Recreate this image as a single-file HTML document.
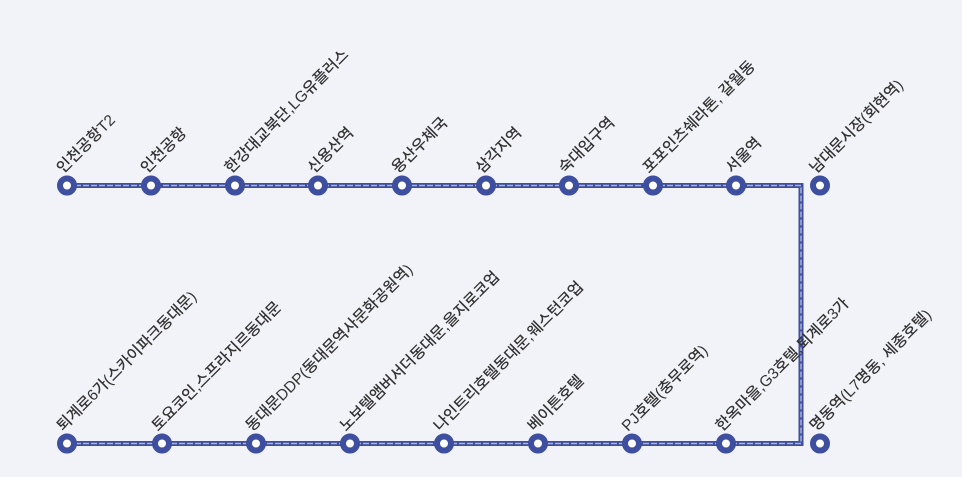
<!DOCTYPE html>
<html><head><meta charset="utf-8"><style>
html,body{margin:0;padding:0;background:#f2f3f8;}
svg{display:block}
text{font-family:"Liberation Sans","Noto Sans CJK KR",sans-serif;font-size:15.5px;font-weight:500;fill:#333;}
</style></head><body>
<svg width="962" height="477" viewBox="0 0 962 477">
<path d="M67 185.5 H801 V443.5 H67" fill="none" stroke="#3f4fa0" stroke-width="5"/>
<path d="M67 185.5 H801 V443.5 H67" fill="none" stroke="#a7b0dc" stroke-width="1.5" stroke-dasharray="6 2"/>
<g fill="#fff" stroke="#3f4fa0" stroke-width="6">
<circle cx="67" cy="185.5" r="7"/><circle cx="151" cy="185.5" r="7"/><circle cx="235" cy="185.5" r="7"/><circle cx="318" cy="185.5" r="7"/><circle cx="402" cy="185.5" r="7"/><circle cx="486" cy="185.5" r="7"/><circle cx="569" cy="185.5" r="7"/><circle cx="653" cy="185.5" r="7"/><circle cx="736" cy="185.5" r="7"/><circle cx="820" cy="185.5" r="7"/>
<circle cx="67" cy="443.5" r="7"/><circle cx="162" cy="443.5" r="7"/><circle cx="256" cy="443.5" r="7"/><circle cx="350" cy="443.5" r="7"/><circle cx="444" cy="443.5" r="7"/><circle cx="538" cy="443.5" r="7"/><circle cx="632" cy="443.5" r="7"/><circle cx="726" cy="443.5" r="7"/><circle cx="820" cy="443.5" r="7"/>
</g>
<g>
<text transform="translate(63,174) rotate(-45)">인천공항T2</text>
<text transform="translate(147,174) rotate(-45)">인천공항</text>
<text transform="translate(231,174) rotate(-45)">한강대교북단,LG유플러스</text>
<text transform="translate(314,174) rotate(-45)">신용산역</text>
<text transform="translate(398,174) rotate(-45)">용산우체국</text>
<text transform="translate(482,174) rotate(-45)">삼각지역</text>
<text transform="translate(565,174) rotate(-45)">숙대입구역</text>
<text transform="translate(649,174) rotate(-45)">포포인츠쉐라톤, 갈월동</text>
<text transform="translate(732,174) rotate(-45)">서울역</text>
<text transform="translate(816,174) rotate(-45)">남대문시장(회현역)</text>
<text transform="translate(63,432) rotate(-45)">퇴계로6가(스카이파크동대문)</text>
<text transform="translate(158,432) rotate(-45)">토요코인,스프라지르동대문</text>
<text transform="translate(252,432) rotate(-45)">동대문DDP(동대문역사문화공원역)</text>
<text transform="translate(346,432) rotate(-45)">노보텔앰버서더동대문,을지로코업</text>
<text transform="translate(440,432) rotate(-45)">나인트리호텔동대문,웨스턴코업</text>
<text transform="translate(534,432) rotate(-45)">베이튼호텔</text>
<text transform="translate(628,432) rotate(-45)">PJ호텔(충무로역)</text>
<text transform="translate(722,432) rotate(-45)">한옥마을,G3호텔,퇴계로3가</text>
<text transform="translate(816,432) rotate(-45)">명동역(L7명동, 세종호텔)</text>
</g>
</svg>
</body></html>
